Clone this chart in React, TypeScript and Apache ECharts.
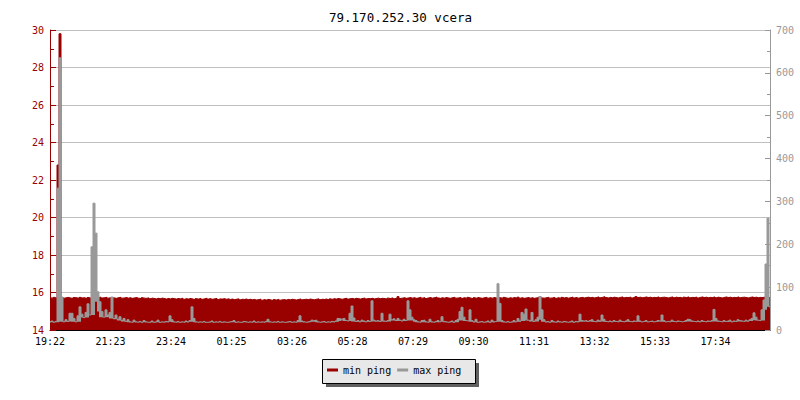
import React, { useEffect, useRef } from 'react';
import * as echarts from 'echarts';

const TITLE = '79.170.252.30 vcera';
const TIME_LABELS = ['19:22', '21:23', '23:24', '01:25', '03:26', '05:28', '07:29', '09:30', '11:31', '13:32', '15:33', '17:34'];
const TICK_STEP_MIN = 121;
const SPAN_MIN = 1440;
const LEFT_MIN = 14;
const LEFT_MAX = 30;
const LEFT_STEP = 2;
const RIGHT_MIN = 0;
const RIGHT_MAX = 700;
const RIGHT_STEP = 100;

// min ping (left axis, ms), one sample every 4 minutes
const MIN_PING = [
  15.72, 15.70, 15.74, 15.71, 22.80, 29.80, 15.73, 15.70, 15.72, 15.74, 15.71, 15.69, 15.73, 15.72, 15.70, 15.74, 15.71, 15.72, 15.69, 15.73,
  15.71, 15.74, 15.72, 15.70, 15.73, 15.75, 15.71, 15.72, 15.74, 15.70, 15.72, 15.73, 15.71, 15.69, 15.72, 15.74, 15.70, 15.71, 15.73, 15.70,
  15.72, 15.69, 15.71, 15.73, 15.70, 15.68, 15.72, 15.70, 15.69, 15.71, 15.67, 15.70, 15.68, 15.66, 15.69, 15.67, 15.70, 15.68, 15.65, 15.68,
  15.66, 15.69, 15.67, 15.65, 15.68, 15.66, 15.69, 15.64, 15.67, 15.65, 15.68, 15.66, 15.63, 15.67, 15.65, 15.68, 15.64, 15.66, 15.69, 15.65,
  15.67, 15.64, 15.66, 15.68, 15.63, 15.66, 15.65, 15.67, 15.64, 15.66, 15.63, 15.65, 15.62, 15.64, 15.66, 15.61, 15.64, 15.63, 15.65, 15.62,
  15.64, 15.61, 15.63, 15.60, 15.62, 15.64, 15.59, 15.62, 15.60, 15.63, 15.61, 15.58, 15.62, 15.60, 15.63, 15.59, 15.61, 15.62, 15.60, 15.63,
  15.61, 15.64, 15.62, 15.60, 15.63, 15.65, 15.61, 15.63, 15.64, 15.62, 15.65, 15.63, 15.61, 15.64, 15.66, 15.62, 15.64, 15.63, 15.65, 15.62,
  15.66, 15.64, 15.67, 15.65, 15.68, 15.66, 15.64, 15.67, 15.69, 15.65, 15.67, 15.68, 15.66, 15.69, 15.67, 15.65, 15.68, 15.70, 15.66, 15.68,
  15.67, 15.69, 15.66, 15.68, 15.70, 15.67, 15.69, 15.68, 15.66, 15.70, 15.68, 15.71, 15.67, 15.69, 15.78, 15.68, 15.70, 15.72, 15.69, 15.71,
  15.73, 15.70, 15.72, 15.69, 15.71, 15.74, 15.70, 15.72, 15.68, 15.71, 15.73, 15.70, 15.72, 15.75, 15.71, 15.69, 15.72, 15.70, 15.73, 15.71,
  15.69, 15.72, 15.74, 15.70, 15.71, 15.73, 15.69, 15.72, 15.70, 15.74, 15.71, 15.68, 15.72, 15.70, 15.73, 15.71, 15.69, 15.72, 15.74, 15.70,
  15.72, 15.70, 15.73, 15.71, 15.68, 15.72, 15.70, 15.74, 15.71, 15.69, 15.72, 15.70, 15.73, 15.71, 15.75, 15.70, 15.72, 15.69, 15.71, 15.73,
  15.70, 15.72, 15.69, 15.71, 15.73, 15.78, 15.71, 15.70, 15.72, 15.74, 15.70, 15.71, 15.73, 15.69, 15.72, 15.70, 15.74, 15.71, 15.73, 15.70,
  15.72, 15.75, 15.71, 15.73, 15.70, 15.72, 15.74, 15.71, 15.73, 15.75, 15.72, 15.74, 15.71, 15.73, 15.76, 15.72, 15.74, 15.77, 15.73, 15.71,
  15.74, 15.72, 15.75, 15.73, 15.71, 15.74, 15.76, 15.72, 15.74, 15.73, 15.75, 15.71, 15.74, 15.78, 15.73, 15.75, 15.72, 15.74, 15.76, 15.73,
  15.75, 15.72, 15.74, 15.73, 15.76, 15.72, 15.74, 15.75, 15.73, 15.71, 15.74, 15.76, 15.72, 15.75, 15.73, 15.74, 15.71, 15.75, 15.73, 15.76,
  15.72, 15.74, 15.73, 15.75, 15.71, 15.74, 15.76, 15.73, 15.75, 15.72, 15.74, 15.73, 15.76, 15.72, 15.75, 15.73, 15.71, 15.74, 15.76, 15.73,
  15.75, 15.72, 15.74, 15.73, 15.76, 15.72, 15.74, 15.75, 15.73, 15.71, 15.74, 15.76, 15.73, 15.75, 15.72, 15.74, 15.73, 15.75, 15.76, 15.74, 15.73,
];

// max ping (right axis, ms), same sampling
const MAX_PING = [
  19, 21, 18, 20, 331, 635, 77, 19, 24, 20, 39, 39, 27, 19, 33, 54, 37, 29, 41, 61,
  35, 194, 296, 226, 89, 66, 43, 30, 47, 35, 41, 77, 27, 35, 25, 31, 22, 27, 20, 24,
  19, 18, 23, 19, 18, 20, 18, 22, 19, 18, 18, 21, 18, 19, 23, 18, 19, 18, 20, 19,
  33, 24, 19, 18, 20, 18, 19, 18, 21, 19, 22, 54, 27, 19,
  18, 19, 18, 20, 18, 18, 19, 21, 18, 19, 18, 20, 18, 19, 18,
  18, 19, 20, 22, 18, 19, 18, 18, 20, 19, 18, 19, 18, 21, 18, 19, 18, 19, 18, 20,
  25, 19, 18, 19, 18, 20, 18, 19, 18, 18, 19, 20, 18, 19, 18, 22, 33, 21, 19, 18,
  19, 20, 23, 22, 23, 19, 18, 19, 20, 18, 19, 18, 20, 19, 21, 27, 26, 25, 27, 22,
  21, 39, 56, 28, 20, 22, 19, 23, 21, 19, 22, 20, 68, 23, 21, 22, 20, 39, 21, 20,
  22, 37, 24, 26, 22, 27, 23, 21, 25, 22,
  68, 47, 30, 24, 22, 19, 18, 22, 23, 19, 18, 25, 19, 18, 20, 22, 19, 31, 20, 19,
  18, 19, 21, 18, 22, 25, 43, 53, 30, 22, 21, 47, 22, 19, 25, 18, 19, 20, 18, 19,
  21, 18, 23, 19, 20, 108, 62, 22, 19, 18, 20, 18, 19, 22, 19, 27, 21, 41, 37, 49,
  23, 22, 41, 20, 24, 30, 78, 47, 24, 19, 20, 18, 22, 19, 18, 21, 19, 18, 20, 19,
  18, 19, 21, 18, 20, 19, 37, 22, 21, 22,
  20, 22, 24, 20, 19, 23, 21, 35, 25, 20, 19, 21, 19, 22, 20, 19, 23, 20, 19, 21,
  24, 20, 19, 21, 20, 33, 21, 19, 20, 22, 19, 20, 21, 19, 20, 22, 21, 35, 22, 19,
  20, 19, 23, 20, 19, 21, 20, 19, 20, 22, 25, 24, 21, 20, 19, 21, 19, 22, 20, 19,
  21, 20, 22, 48, 27, 21, 20, 19, 22, 20, 21, 23, 19, 21, 20, 24, 22, 21, 20, 23,
  21, 24, 27, 40, 30, 23, 22, 47, 70, 154, 261, 54,
];

const MONO = '"DejaVu Sans Mono", monospace';
const RED = '#990000';
const GRAY = '#999999';

export default function App() {
  const ref = useRef<HTMLDivElement>(null);
  useEffect(() => {
    if (!ref.current) return;
    const chart = echarts.init(ref.current, null, { renderer: 'svg' });
    const stepMin = SPAN_MIN / (MIN_PING.length - 1);
    const minData = MIN_PING.map((v, i) => [i * stepMin, v]);
    const maxData = MAX_PING.map((v, i) => [i * stepMin, v]);
    // solid fill under max-ping bursts: from each sample down to the lowest nearby sample
    const fillData = MAX_PING.map((v, i) => {
      let low = v;
      for (let j = Math.max(0, i - 2); j <= Math.min(MAX_PING.length - 1, i + 2); j++) low = Math.min(low, MAX_PING[j]);
      return [i * stepMin, v, low];
    });
    const tickValues = TIME_LABELS.map((_, i) => i * TICK_STEP_MIN);
    chart.setOption({
      animation: false,
      backgroundColor: '#ffffff',
      title: {
        text: TITLE,
        left: 324,
        top: 6,
        textStyle: { fontFamily: MONO, fontSize: 12.5, fontWeight: 'normal', color: '#000' },
      },
      grid: { left: 50, right: 30, top: 30, bottom: 70, containLabel: false },
      xAxis: {
        type: 'value',
        min: 0,
        max: SPAN_MIN,
        interval: TICK_STEP_MIN,
        axisLine: { onZero: false, lineStyle: { color: '#000', width: 1 } },
        axisTick: { inside: true, length: 6, lineStyle: { color: '#000' }, customValues: tickValues },
        axisLabel: {
          customValues: tickValues,
          margin: 6,
          fontFamily: MONO,
          fontSize: 10,
          color: '#000',
          formatter: (v: number) => {
            const k = Math.round(v / TICK_STEP_MIN);
            return Math.abs(k * TICK_STEP_MIN - v) < 0.01 && TIME_LABELS[k] ? TIME_LABELS[k] : '';
          },
        },
        splitLine: { show: false },
      },
      yAxis: [
        {
          type: 'value',
          position: 'left',
          min: LEFT_MIN,
          max: LEFT_MAX,
          interval: LEFT_STEP,
          axisLine: { show: true, lineStyle: { color: RED, width: 1 } },
          axisTick: { show: true, inside: true, length: 6, lineStyle: { color: RED } },
          minorTick: { show: true, splitNumber: 2, length: 4, lineStyle: { color: RED } },
          axisLabel: { margin: 6, fontFamily: MONO, fontSize: 10, color: RED },
          splitLine: { show: true, lineStyle: { color: '#c0c0c0', width: 1 } },
        },
        {
          type: 'value',
          position: 'right',
          min: RIGHT_MIN,
          max: RIGHT_MAX,
          interval: RIGHT_STEP,
          axisLine: { show: true, lineStyle: { color: GRAY, width: 1 } },
          axisTick: { show: true, inside: true, length: 5, lineStyle: { color: GRAY } },
          minorTick: { show: true, splitNumber: 2, length: 3, lineStyle: { color: GRAY } },
          axisLabel: { margin: 6, fontFamily: MONO, fontSize: 10, color: GRAY },
          splitLine: { show: false },
        },
      ],
      legend: {
        left: 327,
        top: 365,
        padding: 0,
        itemWidth: 11,
        itemHeight: 3,
        itemGap: 6,
        icon: 'rect',
        textStyle: { fontFamily: MONO, fontSize: 10, color: '#000' },
        data: ['min ping', 'max ping'],
      },
      graphic: [
        { type: 'rect', z: 0, shape: { x: 326, y: 363, width: 153, height: 24 }, style: { fill: '#606060' } },
        { type: 'rect', z: 1, shape: { x: 322.5, y: 359.5, width: 153, height: 24 }, style: { fill: '#e8e8e8', stroke: '#000', lineWidth: 1 } },
      ],
      series: [
        {
          name: 'min ping',
          type: 'line',
          yAxisIndex: 0,
          step: 'middle',
          symbol: 'none',
          color: RED,
          lineStyle: { width: 1, color: RED },
          areaStyle: { color: RED, opacity: 1 },
          data: minData,
          z: 2,
        },
        {
          name: 'max ping fill',
          type: 'custom',
          yAxisIndex: 1,
          clip: true,
          silent: true,
          encode: { x: 0, y: [1, 2] },
          data: fillData,
          z: 3,
          renderItem: (_params: any, api: any) => {
            const x = api.value(0);
            const top = api.value(1);
            const low = api.value(2);
            if (top <= low) return null;
            const p1 = api.coord([x - stepMin / 2, top]);
            const p2 = api.coord([x + stepMin / 2, low]);
            return {
              type: 'rect',
              shape: { x: p1[0], y: p1[1], width: p2[0] - p1[0], height: p2[1] - p1[1] },
              style: { fill: GRAY },
            };
          },
        },
        {
          name: 'max ping',
          type: 'line',
          yAxisIndex: 1,
          step: 'middle',
          symbol: 'none',
          color: GRAY,
          lineStyle: { width: 1, color: GRAY },
          data: maxData,
          z: 4,
        },
      ],
    });
    return () => chart.dispose();
  }, []);
  return <div ref={ref} style={{ position: 'absolute', left: 0, top: 0, width: 800, height: 400 }} />;
}
